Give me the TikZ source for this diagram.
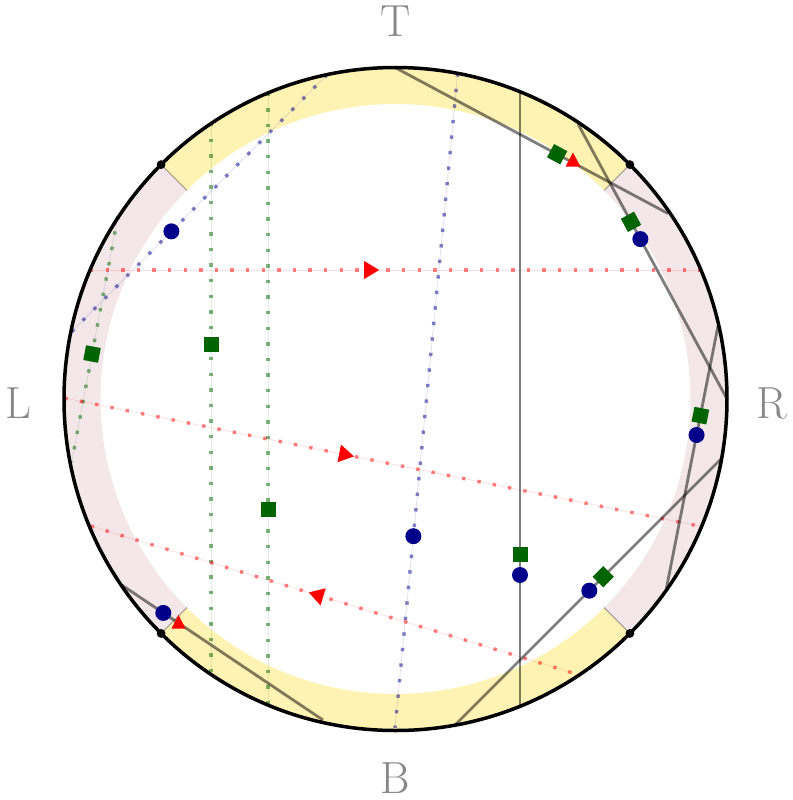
\documentclass[tikz,border=0pt]{standalone}
\usetikzlibrary{decorations.markings,calc}
\definecolor{bandyellow}{RGB}{255,243,180}
\definecolor{bandpink}{RGB}{243,231,233}
\definecolor{mkblue}{RGB}{0,0,139}
\definecolor{mkgreen}{RGB}{0,100,0}
\definecolor{lblgray}{RGB}{136,136,136}
\begin{document}
\begin{tikzpicture}[x=0.5pt,y=0.5pt,
  graychord/.style={draw=black, draw opacity=0.5, line width=1.4pt},
  dotchord/.style={draw=#1, draw opacity=0.12, line width=0.4pt,
     postaction={draw=#1, draw opacity=0.5, line width=1.7pt, dash pattern=on 1.7pt off 6.1pt}},
  gsq/.style={rectangle, fill=mkgreen, minimum size=7.5pt, inner sep=0pt},
  bdot/.style={circle, fill=mkblue, minimum size=8pt, inner sep=0pt},
  rimdot/.style={circle, fill=black, minimum size=4.4pt, inner sep=0pt},
  lbl/.style={text=lblgray, font=\fontsize{22.5}{27}\selectfont, inner sep=0pt},
  fwdarrow/.style={postaction={decorate, decoration={markings, mark=at position #1 with {\fill[red] (5pt,0pt) -- (-2.5pt,4.5pt) -- (-2.5pt,-4.5pt) -- cycle;}}}},
  backarrow/.style={postaction={decorate, decoration={markings, mark=at position #1 with {\fill[red] (-5pt,0pt) -- (2.5pt,4.5pt) -- (2.5pt,-4.5pt) -- cycle;}}}},
  uptri/.style={fill=red}]
\useasboundingbox (0,0) rectangle (793,-800);
\coordinate (C) at (395.5,-399);
% ring band
\begin{scope}[shift={(C)}]
  \fill[bandyellow] (45:331.5) arc[start angle=45, end angle=135, radius=331.5] -- (135:295) arc[start angle=135, end angle=45, radius=295] -- cycle;
  \fill[bandyellow] (225:331.5) arc[start angle=225, end angle=315, radius=331.5] -- (315:295) arc[start angle=315, end angle=225, radius=295] -- cycle;
  \fill[bandpink] (135:331.5) arc[start angle=135, end angle=225, radius=331.5] -- (225:295) arc[start angle=225, end angle=135, radius=295] -- cycle;
  \fill[bandpink] (-45:331.5) arc[start angle=-45, end angle=45, radius=331.5] -- (45:295) arc[start angle=45, end angle=-45, radius=295] -- cycle;
  \foreach \a in {45,135,225,315}
    \draw[black, opacity=0.3, line width=0.6pt] (\a:295) -- (\a:331.5);
\end{scope}
% endpoints
\coordinate (r1a) at (90,-270);   \coordinate (r1b) at (701,-270);
\coordinate (r2a) at (64.5,-398); \coordinate (r2b) at (701.5,-526.5);
\coordinate (r3a) at (90.7,-526); \coordinate (r3b) at (573,-673);
\coordinate (g1a) at (211,-123);  \coordinate (g1b) at (211,-675);
\coordinate (g2a) at (268,-92.5); \coordinate (g2b) at (268,-705.5);
\coordinate (g3a) at (118,-216);  \coordinate (g3b) at (71.7,-462);
\coordinate (b1a) at (71.7,-331.7); \coordinate (b1b) at (326.7,-75);
\coordinate (b2a) at (457.7,-73.3); \coordinate (b2b) at (395,-728);
\coordinate (k1a) at (520,-91);   \coordinate (k1b) at (520,-707);
\coordinate (k2a) at (395,-67.5); \coordinate (k2b) at (668,-213.5);
\coordinate (k3a) at (578,-124);  \coordinate (k3b) at (726.5,-398);
\coordinate (k4a) at (718,-326);  \coordinate (k4b) at (666.5,-588);
\coordinate (k5a) at (721.6,-458.4); \coordinate (k5b) at (454.9,-725.1);
\coordinate (k6a) at (121.7,-585); \coordinate (k6b) at (323,-720);
% dotted chords
\draw[dotchord=green!39!black] (g1a) -- (g1b);
\draw[dotchord=green!39!black] (g2a) -- (g2b);
\draw[dotchord=green!39!black] (g3a) -- (g3b);
\draw[dotchord=mkblue] (b1a) -- (b1b);
\draw[dotchord=mkblue] (b2a) -- (b2b);
\draw[dotchord=red, fwdarrow=0.457] (r1a) -- (r1b);
\draw[dotchord=red, fwdarrow=0.439] (r2a) -- (r2b);
\draw[dotchord=red, backarrow=0.472] (r3a) -- (r3b);
% gray chords
\draw[graychord] (k1a) -- (k1b);
\draw[graychord] (k2a) -- (k2b);
\draw[graychord] (k3a) -- (k3b);
\draw[graychord] (k4a) -- (k4b);
\draw[graychord] (k5a) -- (k5b);
\draw[graychord] (k6a) -- (k6b);
% outer circle
\draw[black, line width=1.75pt] (C) circle[radius=331.5];
\foreach \a/\n in {45/d1,135/d2,225/d3,315/d4}
  \node[rimdot] (\n) at ($(C)+(\a:331.5)$) {};
% markers
\path (g1a) -- (g1b) node[gsq, pos=0.4004, sloped] (g1s) {};
\path (g2a) -- (g2b) node[gsq, pos=0.68, sloped] (g2s) {};
\path (g3a) -- (g3b) node[gsq, pos=0.561, sloped] (g3s) {};
\path (b1a) -- (b1b) node[bdot, pos=0.391] (b1d) {};
\path (b2a) -- (b2b) node[bdot, pos=0.707] (b2d) {};
\path (k1a) -- (k1b) node[gsq, pos=0.7532, sloped] (k1s) {} node[bdot, pos=0.7857] (k1d) {};
\path (k2a) -- (k2b) node[gsq, pos=0.594, sloped] (k2s) {};
\path (k3a) -- (k3b) node[gsq, pos=0.357, sloped] (k3s) {} node[bdot, pos=0.42] (k3d) {};
\path (k4a) -- (k4b) node[gsq, pos=0.342, sloped] (k4s) {} node[bdot, pos=0.416] (k4d) {};
\path (k5a) -- (k5b) node[gsq, pos=0.4436, sloped] (k5s) {} node[bdot, pos=0.496] (k5d) {};
\path (k6a) -- (k6b) node[bdot, pos=0.2067] (k6d) {};
\coordinate (t1) at (573,-162);
\coordinate (t2) at (178.5,-624);
\fill[uptri, shift={(t1)}] (0,9.5) -- (-7.5,-4.7) -- (7.5,-4.7) -- cycle;
\fill[uptri, shift={(t2)}] (0,9) -- (-7,-4.5) -- (7,-4.5) -- cycle;
% labels
\node[lbl] (T) at (395.5,-21) {T};
\node[lbl] (B) at (395.5,-778) {B};
\node[lbl] (L) at (18,-403) {L};
\node[lbl] (R) at (772,-403) {R};
\end{tikzpicture}
\end{document}
